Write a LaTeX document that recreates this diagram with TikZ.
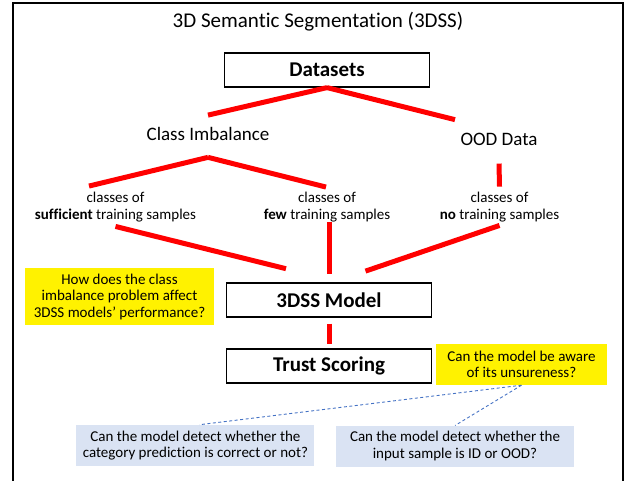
\documentclass[tikz,border=0pt]{standalone}
\usepackage{fontspec}
\setmainfont[Ligatures=NoCommon]{Carlito}
\usetikzlibrary{positioning}

\definecolor{qblue}{RGB}{218,227,243}
\definecolor{linkblue}{RGB}{68,114,196}

\begin{document}
\begin{tikzpicture}[x=1pt,y=-1pt,
    every node/.style={inner sep=0pt,align=center},
    stagebox/.style={draw,line width=1.2pt,minimum width=205pt,minimum height=34pt,
      font=\fontsize{21}{24}\selectfont\bfseries},
    biglbl/.style={font=\fontsize{19}{22}\selectfont},
    smalllbl/.style={font=\fontsize{15}{16.5}\selectfont},
    qyellow/.style={smalllbl,fill=yellow},
    qbluebox/.style={smalllbl,fill=qblue,minimum width=238pt,minimum height=41pt},
    redline/.style={red,line width=5pt},
    bluelink/.style={linkblue,line width=0.9pt,dash pattern=on 3pt off 2.5pt}]
    \useasboundingbox (0,0) rectangle (628,480);

    % Row y-coordinates
    \def\ydata{70}
    \def\yclass{207}
    \def\ymodel{300}
    \def\ytrust{366}

    % Outer frame (open at the bottom)
    \draw[line width=1.2pt] (13,484) -- (13,3) -- (623,3) -- (623,484);

    % Title
    \node[font=\fontsize{21}{24}\selectfont,anchor=base] (title) at (318,27.5)
      {3D Semantic Segmentation (3DSS)};

    % Main stages
    \node[stagebox] (data) at (327,\ydata) {Datasets};
    \node[stagebox] (model) at (329,\ymodel) {3DSS Model};
    \node[stagebox] (trust) at (329,\ytrust) {Trust Scoring};

    % Data branches
    \node[biglbl,anchor=base] (cimb) at (208,140) {Class Imbalance};
    \node[biglbl,anchor=base] (ood) at (499,145.7) {OOD Data};

    % Classes by amount of training samples
    \foreach \n/\x/\w in {suff/115.5/sufficient,few/327/few,none/499.5/no} {
      \node[smalllbl] (\n) at (\x,\yclass) {classes of\\\textbf{\w} training samples};
    }

    % Questions
    \node[qyellow,minimum width=189pt,minimum height=57pt] (qclass) at (119.5,296.6)
      {How does the class\\imbalance problem affect\\3DSS models' performance?};
    \node[qyellow,minimum width=171.5pt,minimum height=41pt] (qaware) at (521.5,364.5)
      {Can the model be aware\\of its unsureness?};
    \node[qbluebox] (qcorrect) at (195.4,445.4)
      {Can the model detect whether the\\category prediction is correct or not?};
    \node[qbluebox] (qood) at (455,446.2)
      {Can the model detect whether the\\input sample is ID or OOD?};

    % Red tree edges
    \draw[redline] (data.south) -- ([yshift=11.5]cimb.north);
    \draw[redline] (data.south) -- ([xshift=-44,yshift=13.5]ood.north);
    \draw[redline] ([yshift=-17]cimb.south) -- ([xshift=-26.5,yshift=6]suff.north);
    \draw[redline] ([yshift=-17]cimb.south) -- ([xshift=-1,yshift=5]few.north);
    \draw[redline] ([yshift=-17.5]ood.south) -- ([yshift=5.5]none.north);
    \draw[redline] ([yshift=-4.5]suff.south) -- ([xshift=-43,yshift=13.7]model.north);
    \draw[redline] ([xshift=2]few.south) -- ([yshift=8]model.north);
    \draw[redline] ([yshift=-3.5]none.south) -- ([xshift=36.5,yshift=11.3]model.north);
    \draw[redline] ([yshift=-6]model.south) -- ([yshift=4]trust.north);

    % Dashed links to the sub-questions
    \draw[bluelink] (qaware.south) -- ([xshift=4]qcorrect.north);
    \draw[bluelink] (qaware.south) -- (qood.north);

  \end{tikzpicture}
\end{document}
